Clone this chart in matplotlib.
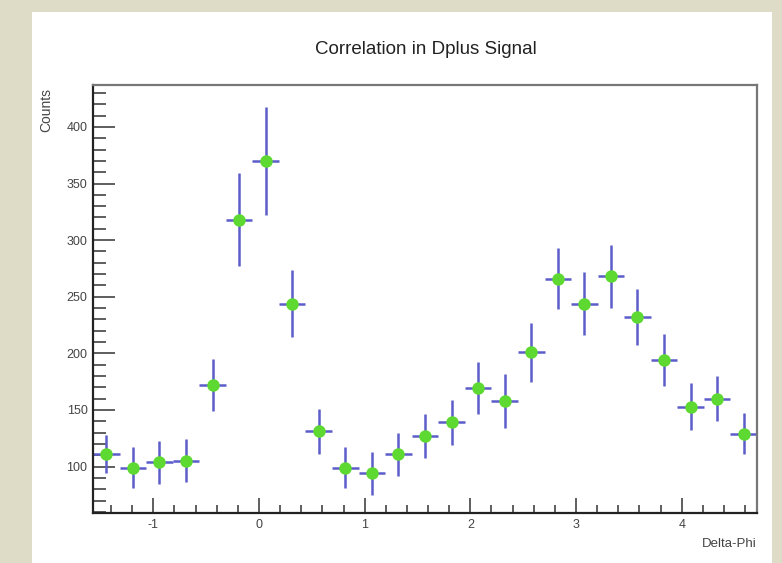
import numpy as np
import matplotlib
matplotlib.use('Agg')
import matplotlib.pyplot as plt
from matplotlib.patches import Rectangle
from matplotlib.ticker import MultipleLocator

plt.rcParams['font.family'] = ['Liberation Sans Narrow', 'Liberation Sans', 'DejaVu Sans']
plt.rcParams['axes.unicode_minus'] = False

# Delta-Phi histogram, 25 bins from -pi/2 to 3pi/2
n_bins = 25
phi_min = -np.pi / 2
phi_max = 3 * np.pi / 2

counts = [111, 99, 104, 105, 172, 318, 370, 244, 131, 99, 94, 111, 127,
          139, 169, 158, 201, 266, 244, 268, 232, 194, 153, 160, 129]
count_err = [17, 18, 19, 19, 23, 41, 48, 30, 20, 18, 19, 19, 19,
             20, 23, 24, 26, 27, 28, 28, 25, 23, 21, 20, 18]

edges = np.linspace(phi_min, phi_max, n_bins + 1)
centers = 0.5 * (edges[:-1] + edges[1:])
half_width = 0.5 * (edges[1] - edges[0])

fig = plt.figure(figsize=(7.82, 5.63), dpi=100)
fig.patch.set_facecolor('#dedbc6')

# white canvas
fig.patches.append(Rectangle((32 / 782, 0), (772 - 32) / 782, (563 - 12) / 563,
                             transform=fig.transFigure, facecolor='white',
                             edgecolor='none', zorder=-10))

ax = fig.add_axes([93 / 782, 1 - 513 / 563, (757 - 93) / 782, (513 - 85) / 563])
ax.set_facecolor('white')
ax.set_zorder(1)

ax.errorbar(centers, counts, xerr=half_width, yerr=count_err,
            fmt='none', ecolor='#5d5dca', elinewidth=1.8, capsize=0, zorder=2)
ax.plot(centers, counts, 'o', color='#5ed932', markersize=9, markeredgewidth=0, zorder=3)

ax.set_xlim(phi_min, phi_max)
ax.set_ylim(59, 437)

ax.xaxis.set_major_locator(MultipleLocator(1))
ax.xaxis.set_minor_locator(MultipleLocator(0.2))
ax.yaxis.set_major_locator(MultipleLocator(50))
ax.yaxis.set_minor_locator(MultipleLocator(10))
ax.set_yticks(np.arange(100, 401, 50))

ax.tick_params(axis='x', which='major', direction='in', length=11, width=1.1,
               color='#333333', pad=4, labelsize=9, labelcolor='#444444')
ax.tick_params(axis='x', which='minor', direction='in', length=6, width=1.1, color='#333333')
ax.tick_params(axis='y', which='major', direction='in', length=16, width=1.1,
               color='#333333', pad=4, labelsize=9, labelcolor='#444444')
ax.tick_params(axis='y', which='minor', direction='in', length=9, width=1.1, color='#333333')

for side in ['left', 'bottom']:
    ax.spines[side].set_color('#222222')
    ax.spines[side].set_linewidth(1.6)
for side in ['top', 'right']:
    ax.spines[side].set_color('#777777')
    ax.spines[side].set_linewidth(1.6)

# titles
fig.text(426 / 782, 1 - 50 / 563, 'Correlation in Dplus Signal', ha='center', va='center',
         fontsize=13.5, color='#222222')
fig.text(46 / 782, 1 - 88 / 563, 'Counts', rotation=90, ha='center', va='top',
         fontsize=10, color='#444444')
fig.text(757 / 782, 1 - 544 / 563, 'Delta-Phi', ha='right', va='center',
         fontsize=9.5, color='#444444')

plt.savefig('out.png', dpi=100, facecolor=fig.get_facecolor())
